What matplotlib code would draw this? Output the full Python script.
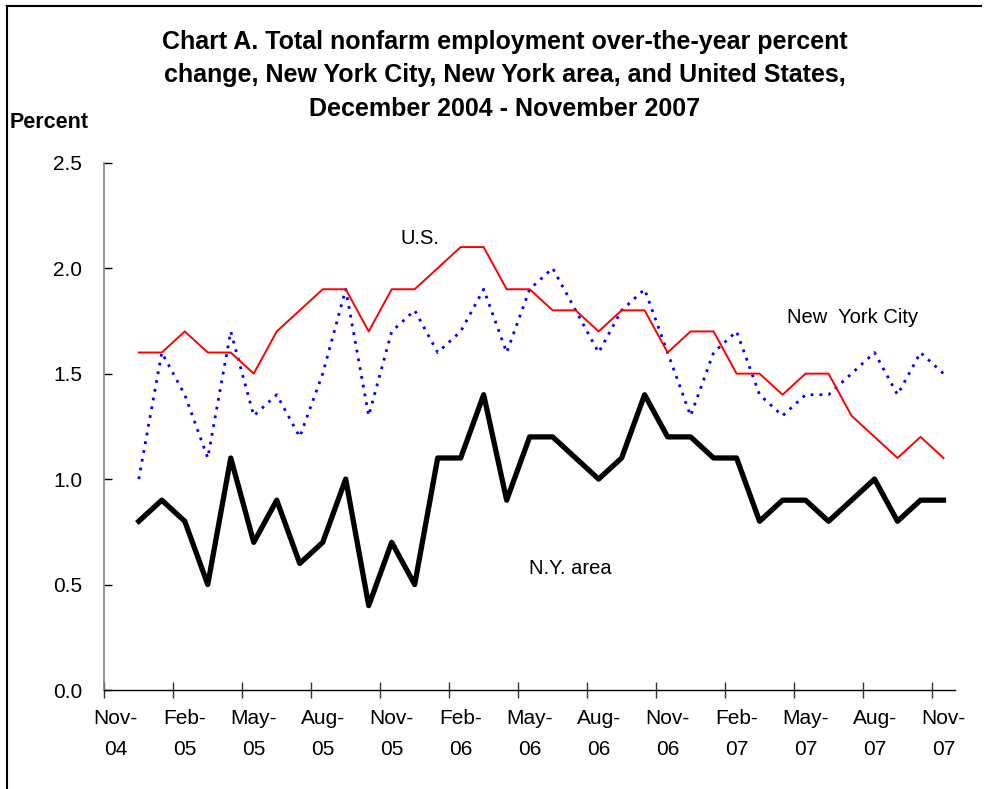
import numpy as np
import matplotlib
matplotlib.use("Agg")
import matplotlib.pyplot as plt
from matplotlib.lines import Line2D

plt.rcParams['font.family'] = ['Liberation Sans', 'DejaVu Sans']

# categories Nov-04 .. Nov-07 (data starts Dec-04)
months = ['Nov-04', 'Dec-04', 'Jan-05', 'Feb-05', 'Mar-05', 'Apr-05', 'May-05', 'Jun-05',
          'Jul-05', 'Aug-05', 'Sep-05', 'Oct-05', 'Nov-05', 'Dec-05', 'Jan-06', 'Feb-06',
          'Mar-06', 'Apr-06', 'May-06', 'Jun-06', 'Jul-06', 'Aug-06', 'Sep-06', 'Oct-06',
          'Nov-06', 'Dec-06', 'Jan-07', 'Feb-07', 'Mar-07', 'Apr-07', 'May-07', 'Jun-07',
          'Jul-07', 'Aug-07', 'Sep-07', 'Oct-07', 'Nov-07']
tick_labels = ['Nov-\n04', 'Feb-\n05', 'May-\n05', 'Aug-\n05', 'Nov-\n05', 'Feb-\n06', 'May-\n06',
               'Aug-\n06', 'Nov-\n06', 'Feb-\n07', 'May-\n07', 'Aug-\n07', 'Nov-\n07']

us = [1.6, 1.6, 1.7, 1.6, 1.6, 1.5, 1.7, 1.8, 1.9, 1.9, 1.7, 1.9,
      1.9, 2.0, 2.1, 2.1, 1.9, 1.9, 1.8, 1.8, 1.7, 1.8, 1.8, 1.6,
      1.7, 1.7, 1.5, 1.5, 1.4, 1.5, 1.5, 1.3, 1.2, 1.1, 1.2, 1.1]
nyc = [1.0, 1.6, 1.4, 1.1, 1.7, 1.3, 1.4, 1.2, 1.5, 1.9, 1.3, 1.7,
       1.8, 1.6, 1.7, 1.9, 1.6, 1.9, 2.0, 1.8, 1.6, 1.8, 1.9, 1.6,
       1.3, 1.6, 1.7, 1.4, 1.3, 1.4, 1.4, 1.5, 1.6, 1.4, 1.6, 1.5]
ny_area = [0.8, 0.9, 0.8, 0.5, 1.1, 0.7, 0.9, 0.6, 0.7, 1.0, 0.4, 0.7,
           0.5, 1.1, 1.1, 1.4, 0.9, 1.2, 1.2, 1.1, 1.0, 1.1, 1.4, 1.2,
           1.2, 1.1, 1.1, 0.8, 0.9, 0.9, 0.8, 0.9, 1.0, 0.8, 0.9, 0.9]

x = np.arange(1, len(months))

fig = plt.figure(figsize=(9.84, 7.89), dpi=100)
ax = fig.add_axes([104.3/984, 99/789, (955-104.3)/984, (690-162.7)/789])

ax.plot(x, nyc, color='#0000ff', lw=2.0, linestyle=(0, (1, 2.2)))
ax.plot(x, us, color='#ff0000', lw=1.4)
ax.plot(x, ny_area, color='black', lw=3.8, solid_joinstyle='round')

ax.set_xlim(-0.5, len(months) - 0.5)
ax.set_ylim(0, 2.5)
ax.set_yticks([0, 0.5, 1.0, 1.5, 2.0, 2.5])
ax.set_yticklabels(['0.0', '0.5', '1.0', '1.5', '2.0', '2.5'])
ax.set_xticks(np.arange(-0.5, len(months) - 1, 3))
ax.set_xticklabels([])
ax.set_xticks(np.arange(0, len(months), 3), minor=True)
ax.set_xticklabels(tick_labels, minor=True, fontsize=15, linespacing=1.8)
ax.tick_params(axis='x', which='major', direction='inout', length=12, width=1, color='#333333')
ax.tick_params(axis='x', which='minor', length=0, pad=14)
ax.tick_params(axis='y', direction='in', length=6, width=1, labelsize=15, pad=16)

for s in ['top', 'right']:
    ax.spines[s].set_visible(False)
ax.spines['left'].set_color('#808080')
ax.spines['left'].set_linewidth(1.2)
ax.spines['bottom'].set_color('black')
ax.spines['bottom'].set_linewidth(1)

fig.text(420/984, 1 - 238/789, 'U.S.', ha='center', va='center', fontsize=14.5)
fig.text(853/984, 1 - 317/789, 'New  York City', ha='center', va='center', fontsize=14.5)
fig.text(570/984, 1 - 569/789, 'N.Y. area', ha='center', va='center', fontsize=14.5)

fig.text(505/984, 1 - 75/789,
         'Chart A. Total nonfarm employment over-the-year percent\n'
         'change, New York City, New York area, and United States,\n'
         'December 2004 - November 2007',
         ha='center', va='center', fontsize=18, fontweight='bold', linespacing=1.5)
fig.text(10/984, 1 - 122/789, 'Percent', ha='left', va='center', fontsize=15.5, fontweight='bold')

# outer frame lines
fig.add_artist(Line2D([7/984, 7/984], [0, 1 - 6/789], transform=fig.transFigure, color='black', lw=1.5))
fig.add_artist(Line2D([7/984, 981/984], [1 - 6/789, 1 - 6/789], transform=fig.transFigure, color='black', lw=1.5))

fig.savefig('out.png', dpi=100)
